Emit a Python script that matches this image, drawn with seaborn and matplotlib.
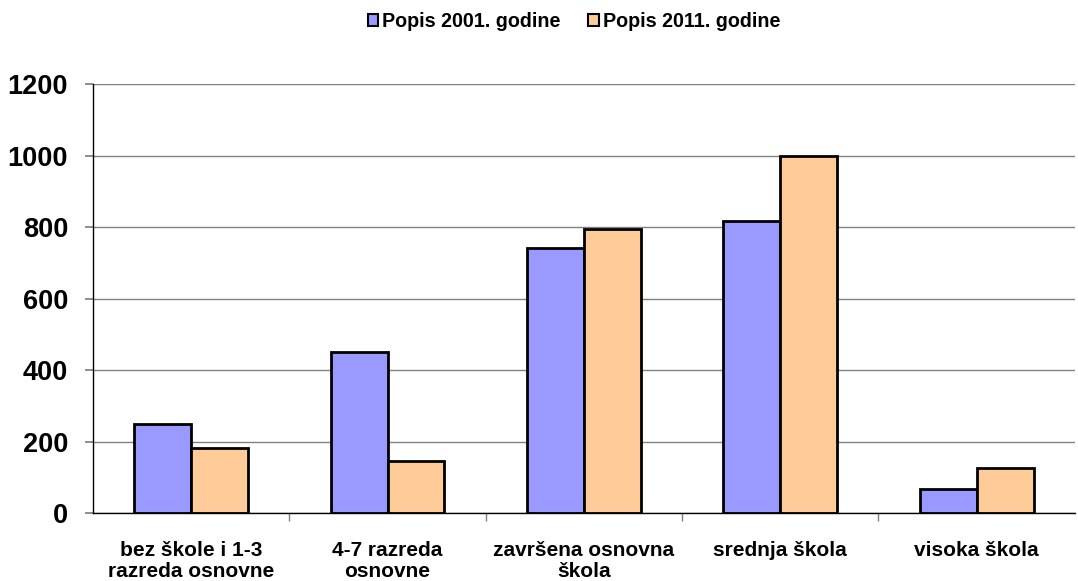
import matplotlib
matplotlib.use("Agg")
import matplotlib.pyplot as plt
import pandas as pd
import seaborn as sns
from matplotlib.ticker import FixedLocator

# data
categories = [
    "bez škole i 1-3\nrazreda osnovne",
    "4-7 razreda\nosnovne",
    "završena osnovna\nškola",
    "srednja škola",
    "visoka škola",
]
series_names = ["Popis 2001. godine", "Popis 2011. godine"]
popis_2001 = [249, 451, 743, 817, 69]
popis_2011 = [183, 145, 795, 1000, 127]
colors = ["#9999FF", "#FFCC99"]

df = pd.DataFrame({
    "kategorija": categories * 2,
    "popis": [series_names[0]] * len(categories) + [series_names[1]] * len(categories),
    "broj": popis_2001 + popis_2011,
})

sns.set_theme(style="white")
plt.rcParams["font.family"] = ["Liberation Sans", "DejaVu Sans"]
plt.rcParams["font.weight"] = "bold"
plt.rcParams["text.color"] = "black"
plt.rcParams["xtick.color"] = "black"
plt.rcParams["ytick.color"] = "black"

fig = plt.figure(figsize=(10.78, 5.81), dpi=100)
ax = fig.add_axes([0.0863, 0.1165, 0.9107, 0.7389])

sns.barplot(data=df, x="kategorija", y="broj", hue="popis", order=categories,
            hue_order=series_names, palette=colors, width=0.58,
            edgecolor="black", linewidth=2.0, saturation=1, ax=ax)

ax.set_ylim(0, 1200)
ax.set_xlim(-0.5, 4.5)
ax.set_yticks(range(0, 1201, 200))
ax.yaxis.grid(True, color="#808080", linewidth=1)
ax.set_axisbelow(True)
ax.set_xlabel("")
ax.set_ylabel("")

for side in ["top", "right"]:
    ax.spines[side].set_visible(False)
for side in ["left", "bottom"]:
    ax.spines[side].set_color("black")
    ax.spines[side].set_linewidth(1)

ax.tick_params(axis="y", labelsize=19.5, length=6, color="#808080", pad=12, left=True)
ax.tick_params(axis="x", which="major", labelsize=15, length=0, pad=20)
ax.xaxis.set_minor_locator(FixedLocator([0.5, 1.5, 2.5, 3.5]))
ax.tick_params(axis="x", which="minor", length=6, color="#808080", bottom=True)
for lbl in ax.get_yticklabels() + ax.get_xticklabels():
    lbl.set_fontweight("bold")
    lbl.set_color("black")
for lbl in ax.get_xticklabels():
    lbl.set_linespacing(1.15)

leg = ax.legend(loc="center", bbox_to_anchor=(0.49, 1.145), ncol=2, frameon=False,
                handlelength=0.55, handleheight=0.55, handletextpad=0.2,
                columnspacing=1.4, prop={"weight": "bold", "size": 14.2})
for h in leg.legend_handles:
    h.set_linewidth(1.5)

fig.savefig("out.png", dpi=100)
